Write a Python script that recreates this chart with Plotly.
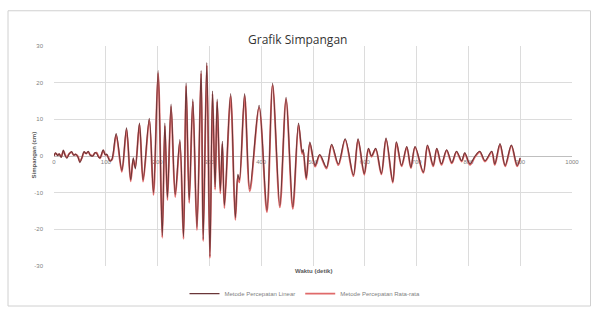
import plotly.graph_objects as go

# Turning points of the displacement response (time in detik, displacement in cm)
waktu = [0, 3, 7, 10, 14, 18, 21, 25, 29, 34, 38, 42, 46, 50, 54, 58, 62, 66, 70, 75,
         79, 82, 86, 89, 92, 95, 99, 102, 105, 108, 112, 120, 131, 140, 148, 153, 157,
         165, 172, 184, 192, 201, 209, 214, 219, 226, 234, 243, 250, 255, 261, 268,
         276, 284, 288, 295, 301, 306, 311, 315, 321, 325, 329, 341, 350, 355, 358,
         368, 378, 396, 411, 422, 436, 448, 461, 472, 479, 481, 487, 494, 504, 513,
         526, 536, 549, 562, 578, 587, 599, 607, 613, 621, 632, 641, 654, 661, 671,
         681, 689, 697, 713, 721, 732, 739, 748, 758, 768, 777, 787, 793, 803, 813,
         822, 832, 845, 851, 861, 871, 883, 894, 900]

simpangan_linear = [0.0, 0.9, 0.1, 0.6, -0.4, 1.6, 0.3, -0.6, 0.5, 1.2, 0.2, 0.5, -0.2,
                    -1.8, -0.4, 1.2, 0.6, 1.3, 0.2, 0.0, 0.9, 0.8, -0.3, -0.5, 0.6, 1.7,
                    0.3, 0.5, -0.6, -1.4, -0.8, 6.1, -3.9, 7.7, -6.5, -0.5, -3.5, 9.0,
                    -6.5, 10.3, -10.0, 23.3, -21.7, 9.0, -11.3, 14.2, -10.5, 4.5, -22.0,
                    19.9, -12.0, 15.5, -19.5, 23.3, -22.6, 25.5, -27.3, 17.7, -8.5, 15.5,
                    -9.5, 4.0, -13.5, 17.0, -16.8, -5.0, -6.5, 17.0, -9.0, 13.8, -14.8,
                    19.9, -13.5, 16.0, -13.9, 9.0, 1.0, 1.8, -6.0, 3.8, -2.6, 0.4, -3.1,
                    3.2, -2.2, 4.7, -5.2, 4.7, -4.8, 2.1, 0.0, 2.1, -4.8, 4.9, -7.0, 3.9,
                    -2.6, 2.6, -3.1, 2.6, -4.4, 3.0, -2.6, 2.1, -2.2, 1.7, -1.8, 1.3, -1.3,
                    0.9, -2.2, 0.0, 1.3, -1.3, 1.3, -2.2, 3.4, -2.6, 3.0, -2.6, -0.5]

simpangan_rata = [0.0, 0.7, 0.3, 0.5, -0.2, 1.4, 0.5, -0.4, 0.6, 1.0, 0.3, 0.4, -0.1,
                  -1.5, -0.5, 1.0, 0.7, 1.1, 0.3, 0.1, 0.8, 0.9, -0.1, -0.6, 0.4, 1.5,
                  0.4, 0.3, -0.4, -1.2, -1.0, 5.7, -4.3, 7.2, -6.9, -1.0, -3.0, 8.6,
                  -7.0, 9.8, -10.6, 22.6, -22.3, 8.2, -12.0, 13.5, -11.2, 3.8, -22.6,
                  19.2, -12.8, 14.8, -20.2, 22.6, -23.2, 24.8, -27.8, 17.0, -9.2, 14.8,
                  -10.2, 3.3, -14.2, 16.3, -17.4, -5.6, -7.2, 16.4, -9.6, 13.2, -15.3,
                  19.3, -14.0, 15.5, -14.4, 8.5, 0.6, 1.4, -6.4, 3.4, -2.9, 0.2, -3.4,
                  2.9, -2.5, 4.4, -5.5, 4.4, -5.1, 1.9, -0.2, 1.9, -5.0, 4.6, -7.3, 3.6,
                  -2.8, 2.4, -3.3, 2.4, -4.6, 2.8, -2.8, 1.9, -2.4, 1.5, -2.0, 1.1, -1.5,
                  0.7, -2.4, -0.2, 1.1, -1.5, 1.1, -2.4, 3.1, -2.8, 2.8, -2.8, -0.6]

x_ticks = [0, 100, 200, 300, 400, 500, 600, 700, 800, 900, 1000]
y_ticks = [-30, -20, -10, 0, 10, 20, 30]
y_tick_text = ["-30", "-20", "-10", "0", "10", "20", "30"]

W, H = 593, 320
L, R, T, B = 54, 21, 46, 43
pw, ph = W - L - R, H - T - B


def px(x):
    return (x - L) / pw


def py(y):
    return (H - B - y) / ph


fig = go.Figure()
fig.add_trace(go.Scatter(
    x=waktu, y=simpangan_rata, mode="lines",
    name="Metode Percepatan Rata-rata",
    line=dict(color="#e06a6a", width=1.9, shape="spline", smoothing=0.9),
))
fig.add_trace(go.Scatter(
    x=waktu, y=simpangan_linear, mode="lines",
    name="Metode Percepatan Linear",
    line=dict(color="#6a3638", width=1.1, shape="spline", smoothing=0.9),
))

tick_font = dict(family="Liberation Sans", size=6, color="#7f7f7f")

fig.update_layout(
    width=W, height=H,
    margin=dict(l=L, r=R, t=T, b=B),
    paper_bgcolor="white", plot_bgcolor="white",
    showlegend=True,
    legend=dict(
        orientation="h", x=px(305), y=py(306), xanchor="center", yanchor="middle",
        font=dict(family="Liberation Sans", size=6, color="#7f7f7f"),
        traceorder="reversed", itemwidth=30, bgcolor="rgba(0,0,0,0)",
    ),
    xaxis=dict(
        range=[0, 1000], tickvals=x_ticks, showgrid=True, gridcolor="#dcdcdc",
        gridwidth=1, anchor="free", position=0.5, showline=True,
        linecolor="#bfbfbf", linewidth=1, ticks="", tickfont=tick_font,
        zeroline=False, layer="below traces",
    ),
    yaxis=dict(
        range=[-30, 30], tickvals=y_ticks, ticktext=y_tick_text, showgrid=True,
        gridcolor="#dcdcdc", gridwidth=1, zeroline=False, showline=False,
        ticks="", tickfont=tick_font, ticklabelstandoff=10,
    ),
    font=dict(family="Liberation Sans"),
)

# Outer chart border
fig.add_shape(type="rect", xref="paper", yref="paper",
              x0=px(8), x1=px(590.5), y0=py(319), y1=py(9),
              line=dict(color="#d0d0d0", width=1), fillcolor="rgba(0,0,0,0)",
              layer="below")

fig.add_annotation(text="Grafik Simpangan", xref="paper", yref="paper",
                   x=px(297), y=py(28), showarrow=False,
                   font=dict(family="Open Sans", size=12, color="#333333"))
fig.add_annotation(text="<b>Waktu (detik)</b>", xref="paper", yref="paper",
                   x=px(313), y=py(287), showarrow=False,
                   font=dict(family="Liberation Sans", size=6, color="#595959"))
fig.add_annotation(text="<b>Simpangan (cm)</b>", xref="paper", yref="paper",
                   x=px(29), y=py(161), showarrow=False, textangle=-90,
                   font=dict(family="Liberation Sans", size=6, color="#595959"))

fig.write_html("out.html")
